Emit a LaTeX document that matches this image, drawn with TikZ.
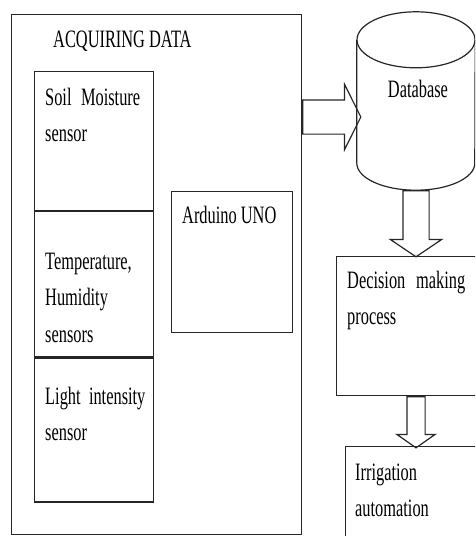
\documentclass[tikz,border=0pt]{standalone}
\usepackage{fontspec}
\setmainfont{Liberation Serif}[FakeStretch=0.655]
\usetikzlibrary{calc,positioning,shapes.arrows}

\tikzset{
  box/.style={draw=black!85, line width=1.2pt, rectangle, inner sep=0pt},
  sensorbox/.style={box, minimum width=119},
  txt/.style={inner sep=0pt, align=left, font=\fontsize{25}{36.5}\selectfont, text=black},
  outline/.style={draw=black!85, line width=1.2pt},
  blockarr/.style={single arrow, draw=black!85, line width=1.2pt, minimum width=0pt}
}

\begin{document}
\begin{tikzpicture}[x=1pt,y=-1pt]
  \clip (0,0) rectangle (475,536);

  % acquiring block
  \node[box, minimum width=290, minimum height=520, anchor=north west] (acq) at (11,14) {};
  \node[txt, anchor=base west] (acqlbl) at ($(acq.north west)+(42,33)$) {ACQUIRING DATA};

  \node[sensorbox, minimum height=139, anchor=north west] (soil) at (34,71) {};
  \node[sensorbox, minimum height=145, below=0pt of soil] (temp) {};
  \node[sensorbox, minimum height=144, below=0pt of temp] (light) {};
  \node[txt, text width=95, anchor=base west] at ($(soil.north west)+(11,34)$) {Soil\hfill Moisture\\sensor};
  \node[txt, text width=105, anchor=base west] at ($(temp.north west)+(11,58)$) {Temperature,\\Humidity\\sensors};
  \node[txt, text width=110, anchor=base west] at ($(light.north west)+(11,47)$) {\mbox{Light intensity}\\sensor};

  \node[box, minimum width=121, minimum height=141, anchor=north west] (ard) at (171,191) {};
  \node[txt, anchor=base west] at ($(ard.north west)+(11,32)$) {Arduino UNO};

  % storage and decisions
  \node[inner sep=0pt, minimum width=118, minimum height=178] (db) at (416,101) {};
  \draw[outline] ($(db.north)+(0,28)$) ellipse [x radius=59pt, y radius=28pt];
  \draw[outline] ($(db.north west)+(0,28)$) -- ($(db.south west)+(0,-27)$)
    arc[start angle=180, end angle=360, x radius=59pt, y radius=27pt] -- ($(db.north east)+(0,28)$);
  \node[txt, anchor=base] (dblbl) at ($(db.center)+(2,-4)$) {Database};

  \node[box, minimum width=150, minimum height=139, anchor=north west] (dec) at (336,256) {};
  \node[txt, text width=118, anchor=base west] at ($(dec.north west)+(11,32)$) {Decision\hfill making\\process};

  \node[box, minimum width=140, minimum height=100, anchor=north west] (irr) at (345,446) {};
  \node[txt, text width=120, anchor=base west] at ($(irr.north west)+(10,34)$) {Irrigation\\automation};

  % block arrows
  \coordinate (r1) at (0,117);
  \node[blockarr, inner sep=16.5, single arrow head extend=15.5, single arrow tip angle=127,
    minimum height=58, anchor=tail] (a1) at (acq.east |- r1) {};
  \node[blockarr, inner sep=12.5, single arrow head extend=12.5, single arrow tip angle=112,
    minimum height=66, shape border rotate=270, anchor=tail] (a2) at (db.south) {};
  \node[blockarr, inner sep=8.5, single arrow head extend=10, single arrow tip angle=110,
    minimum height=51, shape border rotate=270, anchor=tail] (a3) at (db.south |- dec.south) {};
\end{tikzpicture}
\end{document}
